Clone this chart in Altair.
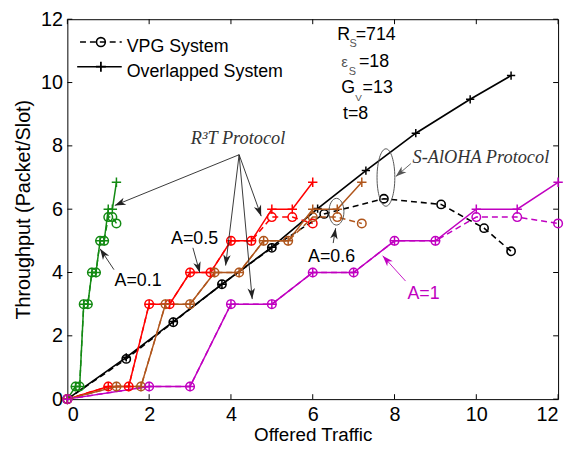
import math
import altair as alt
import pandas as pd

# ---------------- data ----------------
vpg_x = [0, 1.44, 2.59, 3.78, 5.00, 6.28, 7.74, 9.14, 10.19, 10.85]
vpg_y = [0, 1.27, 2.43, 3.63, 4.78, 5.85, 6.33, 6.15, 5.40, 4.67]
ovl_x = [0, 1.44, 2.59, 3.78, 5.00, 6.12, 7.30, 8.52, 9.85, 10.85]
ovl_y = [0, 1.32, 2.45, 3.63, 4.80, 6.02, 7.22, 8.40, 9.47, 10.22]

a01_x = [0, 0.2, 0.3, 0.4, 0.5, 0.6, 0.7, 0.8, 0.9, 1.0, 1.1, 1.2]
a05_x = [0, 1.0, 1.5, 2.0, 2.5, 3.0, 3.5, 4.0, 4.5, 5.0, 5.5, 6.0]
a06_x = [0, 1.2, 1.8, 2.4, 3.0, 3.6, 4.2, 4.8, 5.4, 6.0, 6.6, 7.2]
a1_x = [0, 2, 3, 4, 5, 6, 7, 8, 9, 10, 11, 12]
r3t_ovl_y = [0, 0.4, 0.4, 3.0, 3.0, 4.0, 4.0, 5.0, 5.0, 6.0, 6.0, 6.85]
r3t_vpg_y = [0, 0.4, 0.4, 3.0, 3.0, 4.0, 4.0, 5.0, 5.0, 5.75, 5.75, 5.55]

a_names = ["A=0.1", "A=0.5", "A=0.6", "A=1"]
a_colors = ["#138a13", "#ff0000", "#b0561c", "#c000c0"]
a_xs = [a01_x, a05_x, a06_x, a1_x]

tick_vals = [0, 2, 4, 6, 8, 10, 12]

# annotation arrows (data coordinates)
arr_x0 = [4.20, 4.20, 4.20, 4.20, 3.07, 1.14, 6.50, 8.40, 8.27]
arr_y0 = [7.72, 7.72, 7.72, 7.72, 4.78, 4.09, 4.93, 7.44, 3.73]
arr_x1 = [1.16, 3.87, 4.52, 4.74, 3.24, 0.80, 6.56, 8.03, 7.71]
arr_y1 = [6.12, 4.22, 3.16, 5.78, 3.99, 4.75, 5.40, 7.03, 4.53]
arr_col = ["#222222"] * 7 + ["#555555", "#c000c0"]

lab_text = ["A=0.1", "A=0.5", "A=0.6", "A=1"]
lab_x = [1.73, 3.11, 6.46, 8.71]
lab_y = [3.56, 4.90, 4.34, 3.16]
lab_col = ["black", "black", "black", "#c000c0"]

par_text = ["R", "S", "=714", "\u03b5", "S", "=18", "G", "V", "=13", "t=8"]
par_x = [6.60, 6.90, 7.05, 6.70, 6.88, 7.13, 6.70, 7.04, 7.22, 6.74]
par_y = [11.34, 11.13, 11.34, 10.50, 10.25, 10.50, 9.67, 9.43, 9.67, 8.84]
par_size = [18, 11, 18, 15, 11, 18, 18, 10, 18, 18]
par_col = ["black", "#555555", "black", "#555555", "#555555", "black", "black", "#555555", "black", "black"]

proto_text = ["R\u00b3T Protocol", "S-AlOHA Protocol"]
proto_x = [3.02, 8.44]
proto_y = [8.06, 7.47]

ell_x = [7.79, 6.58]
ell_y = [7.00, 5.92]

leg_text = ["VPG System", "Overlapped System"]
leg_tx = [1.45, 1.45]
leg_ty = [10.97, 10.19]
leg_lx0 = [0.31, 0.24]
leg_lx1 = [1.33, 1.33]
leg_ly = [11.28, 10.50]
leg_mx = [0.82, 0.82]

# ---------------- build tables ----------------
W, H = 496, 384
PX, PY = W / 12.0, H / 12.0
FONT = "Liberation Sans"
SERIF = "Liberation Serif"

black_vpg = pd.DataFrame({"x": vpg_x, "y": vpg_y, "i": range(len(vpg_x))})
black_ovl = pd.DataFrame({"x": ovl_x, "y": ovl_y, "i": range(len(ovl_x))})

rows_o, rows_v = [], []
for name, col, xs_ in zip(a_names, a_colors, a_xs):
    for i, (xv, yo, yv) in enumerate(zip(xs_, r3t_ovl_y, r3t_vpg_y)):
        rows_o.append({"g": name, "c": col, "x": xv, "y": yo, "i": i})
        rows_v.append({"g": name, "c": col, "x": xv, "y": yv, "i": i})
col_ovl = pd.DataFrame(rows_o)
col_vpg = pd.DataFrame(rows_v)

arrows = pd.DataFrame({"x": arr_x0, "y": arr_y0, "x2": arr_x1, "y2": arr_y1, "c": arr_col})
arrows["ang"] = [
    math.degrees(math.atan2((b - a) * PX, (d - c) * PY)) % 360
    for a, b, c, d in zip(arr_x0, arr_x1, arr_y0, arr_y1)
]
labels = pd.DataFrame({"t": lab_text, "x": lab_x, "y": lab_y, "c": lab_col})
params = pd.DataFrame({"t": par_text, "x": par_x, "y": par_y, "s": par_size, "c": par_col})
protos = pd.DataFrame({"t": proto_text, "x": proto_x, "y": proto_y})
ticks = pd.DataFrame({"v": tick_vals})
legt = pd.DataFrame({"t": leg_text, "x": leg_tx, "y": leg_ty})
legl = pd.DataFrame({"x": leg_lx0, "x2": leg_lx1, "y": leg_ly, "k": ["vpg", "ovl"]})
legm = pd.DataFrame({"x": leg_mx, "y": leg_ly, "k": ["vpg", "ovl"]})

# ---------------- encodings ----------------
xs = alt.Scale(domain=[0, 12], nice=False, zero=False)
ys = alt.Scale(domain=[0, 12], nice=False, zero=False)
x_axis = alt.Axis(values=tick_vals, title="Offered Traffic", grid=False, domain=False,
                  tickSize=0, labelPadding=6, titleY=42, titleBaseline="alphabetic",
                  titleFontSize=19)
y_axis = alt.Axis(values=tick_vals, title="Throughput (Packet/Slot)", grid=False, domain=False,
                  tickSize=0, labelPadding=5, titleX=-44, titleY=H / 2,
                  titleBaseline="middle", titleAlign="center", titleAngle=270)


def X(f="x"):
    return alt.X(f"{f}:Q", scale=xs, axis=x_axis)


def Y(f="y"):
    return alt.Y(f"{f}:Q", scale=ys, axis=y_axis)


PLUS = "M-1 0L1 0M0 -1L0 1"
ARROW = "M0 0L0.55 1.6L0 1.15L-0.55 1.6Z"
ELL1 = "M-0.31 0A0.31 1 0 1 0 0.31 0A0.31 1 0 1 0 -0.31 0Z"
ELL2 = "M-0.56 0A0.56 1 0 1 0 0.56 0A0.56 1 0 1 0 -0.56 0Z"

layers = []

# inward ticks
base_t = alt.Chart(ticks)
layers += [
    base_t.mark_rule(color="black", strokeWidth=1).encode(x=X("v"), y=alt.value(H), y2=alt.value(H - 5)),
    base_t.mark_rule(color="black", strokeWidth=1).encode(x=X("v"), y=alt.value(0), y2=alt.value(5)),
    base_t.mark_rule(color="black", strokeWidth=1).encode(y=Y("v"), x=alt.value(0), x2=alt.value(5)),
    base_t.mark_rule(color="black", strokeWidth=1).encode(y=Y("v"), x=alt.value(W), x2=alt.value(W - 5)),
]

# black curves
layers += [
    alt.Chart(black_ovl).mark_line(color="black", strokeWidth=1.7).encode(x=X(), y=Y(), order="i:Q"),
    alt.Chart(black_ovl).mark_point(shape=PLUS, filled=False, size=70, strokeWidth=1.5,
                                    color="black", opacity=1).encode(x=X(), y=Y()),
    alt.Chart(black_vpg).mark_line(color="black", strokeWidth=1.6, strokeDash=[6, 4]).encode(
        x=X(), y=Y(), order="i:Q"),
    alt.Chart(black_vpg).mark_point(shape="circle", filled=False, size=70, strokeWidth=1.6,
                                    color="black", opacity=1).encode(x=X(), y=Y()),
]

# coloured R3T curves
cenc = alt.Color("c:N", scale=None)
layers += [
    alt.Chart(col_vpg).mark_line(strokeWidth=1.5, strokeDash=[6, 4]).encode(
        x=X(), y=Y(), order="i:Q", detail="g:N", color=cenc),
    alt.Chart(col_ovl).mark_line(strokeWidth=1.5).encode(
        x=X(), y=Y(), order="i:Q", detail="g:N", color=cenc),
    alt.Chart(col_vpg).mark_point(shape="circle", filled=False, size=75, strokeWidth=1.5,
                                  opacity=1).encode(x=X(), y=Y(), color=cenc),
    alt.Chart(col_ovl).mark_point(shape=PLUS, filled=False, size=90, strokeWidth=1.5,
                                  opacity=1).encode(x=X(), y=Y(), color=cenc),
]

# annotations: arrows
layers += [
    alt.Chart(arrows).mark_rule(strokeWidth=0.9).encode(
        x=X(), y=Y(), x2="x2:Q", y2="y2:Q", color=cenc),
    alt.Chart(arrows).mark_point(shape=ARROW, filled=True, size=190, strokeWidth=0, opacity=1).encode(
        x=X("x2"), y=Y("y2"), color=cenc, angle=alt.Angle("ang:Q", scale=None)),
]

# ellipses
layers += [
    alt.Chart(pd.DataFrame({"x": ell_x[:1], "y": ell_y[:1]})).mark_point(
        shape=ELL1, filled=False, size=3364, strokeWidth=1, color="#555555", opacity=1).encode(x=X(), y=Y()),
    alt.Chart(pd.DataFrame({"x": ell_x[1:], "y": ell_y[1:]})).mark_point(
        shape=ELL2, filled=False, size=729, strokeWidth=1, color="#555555", opacity=1).encode(x=X(), y=Y()),
]

# texts
layers += [
    alt.Chart(labels).mark_text(font=FONT, fontSize=18, align="center", baseline="alphabetic").encode(
        x=X(), y=Y(), text="t:N", color=cenc),
    alt.Chart(params).mark_text(font=FONT, align="left", baseline="alphabetic").encode(
        x=X(), y=Y(), text="t:N", color=cenc, size=alt.Size("s:Q", scale=None)),
    alt.Chart(protos).mark_text(font=SERIF, fontStyle="italic", fontSize=18.5, align="left",
                                baseline="alphabetic", color="#333333").encode(x=X(), y=Y(), text="t:N"),
]

# legend
layers += [
    alt.Chart(legl[legl.k == "vpg"]).mark_rule(color="black", strokeWidth=1.6, strokeDash=[6, 4]).encode(
        x=X(), x2="x2:Q", y=Y()),
    alt.Chart(legl[legl.k == "ovl"]).mark_rule(color="black", strokeWidth=1.6).encode(
        x=X(), x2="x2:Q", y=Y()),
    alt.Chart(legm[legm.k == "vpg"]).mark_point(shape="circle", filled=False, size=80, strokeWidth=1.6,
                                               color="black", opacity=1).encode(x=X(), y=Y()),
    alt.Chart(legm[legm.k == "ovl"]).mark_point(shape=PLUS, filled=False, size=100, strokeWidth=1.8,
                                               color="black", opacity=1).encode(x=X(), y=Y()),
    alt.Chart(legt).mark_text(font=FONT, fontSize=18, align="left", baseline="alphabetic",
                              color="black").encode(x=X(), y=Y(), text="t:N"),
]

chart = alt.layer(*layers).properties(
    width=W, height=H,
    padding={"left": 60, "top": 9, "right": 9, "bottom": 43},
    autosize=alt.AutoSizeParams(type="none"),
    background="white",
).configure_view(stroke="black", strokeWidth=1).configure_axis(
    labelFont=FONT, titleFont=FONT, labelFontSize=20, titleFontSize=20,
    titleFontWeight="normal", labelColor="black", titleColor="black",
)

chart.save("out.html", embed_options={"renderer": "svg", "actions": False})
